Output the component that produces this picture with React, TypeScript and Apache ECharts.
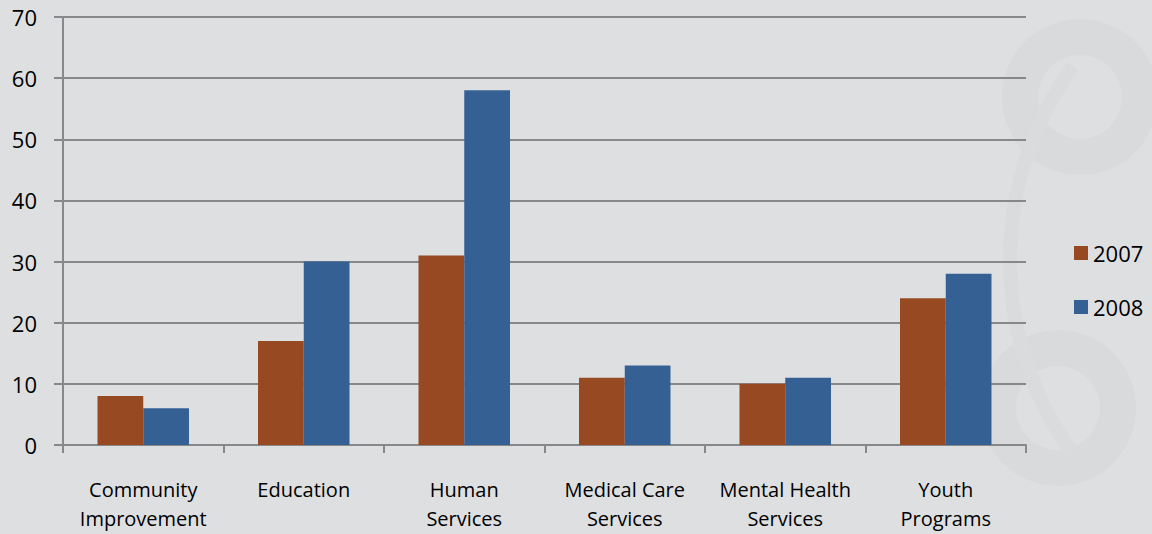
import React, { useEffect, useRef } from "react";
import * as echarts from "echarts";

const categories = [
  "Community\nImprovement",
  "Education",
  "Human\nServices",
  "Medical Care\nServices",
  "Mental Health\nServices",
  "Youth\nPrograms",
];
const series2007 = [8, 17, 31, 11, 10, 24];
const series2008 = [6, 30, 58, 13, 11, 28];
const seriesNames = ["2007", "2008"];
const yTicks = { min: 0, max: 70, interval: 10 };

export default function App() {
  const ref = useRef<HTMLDivElement>(null);
  useEffect(() => {
    document.body.style.margin = "0";
    const chart = echarts.init(ref.current!, null, { renderer: "svg" });
    const font = "Open Sans";
    chart.setOption({
      animation: false,
      backgroundColor: "#dedfe1",
      textStyle: { fontFamily: font },
      graphic: [
        { type: "ring", silent: true, z: -10, shape: { cx: 1080, cy: 97, r: 78, r0: 42 }, style: { fill: "#d9dadc" } },
        { type: "ring", silent: true, z: -10, shape: { cx: 1058, cy: 408, r: 78, r0: 42 }, style: { fill: "#d9dadc" } },
        { type: "arc", silent: true, z: -10, shape: { cx: 1340, cy: 260, r: 330, startAngle: Math.PI * 0.8, endAngle: Math.PI * 1.2 }, style: { stroke: "#dadbdd", lineWidth: 14, fill: null } },
      ],
      grid: { left: 63, right: 126, top: 17, bottom: 89, containLabel: false, outerBoundsMode: "none" },
      legend: {
        orient: "vertical",
        left: 1069,
        top: 237,
        itemWidth: 14,
        itemHeight: 14,
        itemGap: 32,
        icon: "rect",
        textStyle: { fontSize: 22, color: "#000", fontFamily: font },
        data: seriesNames,
      },
      xAxis: {
        type: "category",
        data: categories,
        axisLine: { lineStyle: { color: "#888888", width: 2 } },
        axisTick: { show: true, length: 8, lineStyle: { color: "#888888", width: 2 } },
        axisLabel: { color: "#000", fontSize: 20, margin: 30, lineHeight: 29, interval: 0 },
      },
      yAxis: {
        type: "value",
        min: yTicks.min,
        max: yTicks.max,
        interval: yTicks.interval,
        axisLine: { show: true, lineStyle: { color: "#888888", width: 2 } },
        axisTick: { show: true, length: 9, lineStyle: { color: "#888888", width: 2 } },
        axisLabel: { color: "#000", fontSize: 22, margin: 26, align: "right" },
        splitLine: { lineStyle: { color: "#888888", width: 2 } },
      },
      series: [
        { name: seriesNames[0], type: "bar", data: series2007, itemStyle: { color: "#974922" }, barGap: "0%", barCategoryGap: "43%" },
        { name: seriesNames[1], type: "bar", data: series2008, itemStyle: { color: "#356093" }, barGap: "0%", barCategoryGap: "43%" },
      ],
    });
    return () => chart.dispose();
  }, []);
  return <div ref={ref} style={{ width: 1152, height: 534 }} />;
}
